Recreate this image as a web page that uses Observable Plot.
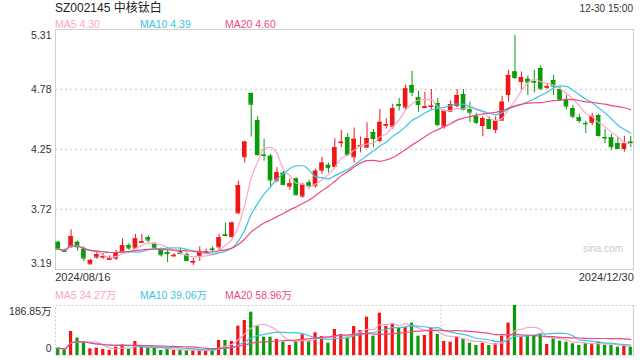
<!DOCTYPE html>
<html><head><meta charset="utf-8">
<script src="https://cdn.jsdelivr.net/npm/d3@7"></script>
<script src="https://cdn.jsdelivr.net/npm/@observablehq/plot@0.6"></script>
<style>
body{margin:0;background:#fff;}
#c{position:relative;width:640px;height:360px;overflow:hidden;font-family:"Liberation Sans",Arial,"Noto Sans CJK SC",sans-serif;}
#c svg{position:absolute;left:0;}
.t{position:absolute;white-space:nowrap;line-height:1;}
</style></head><body><div id="c"></div>
<script>
const title = "SZ002145 中核钛白";
const timeLabel = "12-30 15:00";
const dates = [
"2024/08/16","2024/08/19","2024/08/20","2024/08/21","2024/08/22","2024/08/23","2024/08/26","2024/08/27","2024/08/28","2024/08/29","2024/08/30",
"2024/09/02","2024/09/03","2024/09/04","2024/09/05","2024/09/06","2024/09/09","2024/09/10","2024/09/11","2024/09/12","2024/09/13","2024/09/18","2024/09/19","2024/09/20","2024/09/23","2024/09/24","2024/09/25","2024/09/26","2024/09/27","2024/09/30",
"2024/10/08","2024/10/09","2024/10/10","2024/10/11","2024/10/14","2024/10/15","2024/10/16","2024/10/17","2024/10/18","2024/10/21","2024/10/22","2024/10/23","2024/10/24","2024/10/25","2024/10/28","2024/10/29","2024/10/30","2024/10/31",
"2024/11/01","2024/11/04","2024/11/05","2024/11/06","2024/11/07","2024/11/08","2024/11/11","2024/11/12","2024/11/13","2024/11/14","2024/11/15","2024/11/18","2024/11/19","2024/11/20","2024/11/21","2024/11/22","2024/11/25","2024/11/26","2024/11/27","2024/11/28","2024/11/29",
"2024/12/02","2024/12/03","2024/12/04","2024/12/05","2024/12/06","2024/12/09","2024/12/10","2024/12/11","2024/12/12","2024/12/13","2024/12/16","2024/12/17","2024/12/18","2024/12/19","2024/12/20","2024/12/23","2024/12/24","2024/12/25","2024/12/26","2024/12/27","2024/12/30"];
const open = [3.43,3.36,3.39,3.43,3.37,3.24,3.30,3.30,3.28,3.29,
3.35,3.40,3.38,3.43,3.47,3.42,3.37,3.34,3.31,3.35,
3.32,3.255,3.31,3.34,3.37,3.39,3.495,3.48,3.69,4.185,
4.745,4.506,4.20,4.19,3.98,4.04,3.926,3.99,3.838,3.955,
3.93,4.067,4.11,4.10,4.31,4.354,4.185,4.28,4.27,4.40,
4.33,4.465,4.456,4.645,4.624,4.815,4.706,4.62,4.63,4.656,
4.456,4.588,4.638,4.736,4.60,4.54,4.462,4.515,4.427,4.509,
4.736,4.935,4.85,4.87,4.85,4.966,4.80,4.86,4.78,4.692,
4.612,4.53,4.48,4.49,4.55,4.355,4.353,4.303,4.259,4.315];
const close = [3.37,3.35,3.48,3.39,3.29,3.27,3.32,3.305,3.285,3.34,
3.40,3.38,3.46,3.435,3.45,3.38,3.32,3.33,3.315,3.33,
3.27,3.26,3.35,3.345,3.365,3.47,3.49,3.60,3.93,4.315,
4.65,4.206,4.197,3.98,4.044,3.94,3.947,3.85,3.935,3.93,
4.058,4.13,4.09,4.265,4.315,4.206,4.34,4.285,4.347,4.347,
4.49,4.47,4.61,4.638,4.786,4.756,4.647,4.627,4.633,4.47,
4.588,4.647,4.727,4.603,4.58,4.49,4.522,4.436,4.50,4.668,
4.904,4.885,4.885,4.845,4.845,4.786,4.805,4.81,4.686,4.633,
4.544,4.506,4.477,4.54,4.374,4.353,4.274,4.259,4.30,4.31];
const high = [3.44,3.37,3.54,3.44,3.39,3.28,3.35,3.33,3.31,3.36,
3.46,3.42,3.50,3.50,3.49,3.43,3.38,3.36,3.33,3.38,
3.34,3.285,3.39,3.37,3.39,3.50,3.60,3.61,3.97,4.323,
4.75,4.54,4.34,4.206,4.09,4.058,3.99,4.00,3.95,3.98,
4.075,4.18,4.13,4.345,4.418,4.39,4.44,4.36,4.486,4.427,
4.603,4.52,4.65,4.70,4.82,4.94,4.765,4.756,4.78,4.70,
4.60,4.68,4.78,4.78,4.668,4.57,4.54,4.54,4.54,4.72,
4.95,5.257,4.935,4.90,4.95,4.99,4.83,4.904,4.80,4.727,
4.64,4.56,4.50,4.57,4.56,4.427,4.383,4.353,4.367,4.367];
const low = [3.36,3.34,3.38,3.35,3.26,3.23,3.28,3.28,3.27,3.27,
3.34,3.36,3.37,3.42,3.43,3.36,3.30,3.25,3.30,3.32,
3.26,3.225,3.26,3.32,3.34,3.36,3.48,3.47,3.676,4.13,
4.36,4.19,4.147,3.91,3.955,3.93,3.89,3.84,3.82,3.90,
3.91,4.03,4.04,4.09,4.265,4.19,4.13,4.22,4.26,4.265,
4.31,4.43,4.43,4.59,4.60,4.72,4.58,4.615,4.603,4.455,
4.43,4.575,4.62,4.59,4.486,4.47,4.362,4.425,4.39,4.509,
4.668,4.868,4.78,4.727,4.75,4.775,4.78,4.727,4.676,4.60,
4.52,4.48,4.39,4.46,4.36,4.303,4.244,4.25,4.226,4.265];
const volume = [27.4,22.4,89.7,64.8,49.8,24.9,27.4,22.4,18.7,31.1,
39.9,22.4,52.3,31.1,27.4,27.4,18.7,24.9,18.7,18.7,
18.7,18.7,22.4,18.7,22.4,56.1,56.1,52.3,109.6,130.8,
161.9,109.6,68.5,68.5,59.8,49.8,37.4,52.3,77.2,53.6,
84.7,71.0,46.0,97.2,78.5,64.8,108.4,93.4,143.3,72.3,
158.2,108.4,115.9,102.1,105.9,120.8,72.3,74.7,102.1,78.5,
52.3,49.8,68.5,62.3,46.0,37.4,46.0,37.4,43.6,72.3,
120.8,186.85,68.5,74.7,74.7,81.0,41.1,62.3,53.6,49.8,
43.6,37.4,46.0,43.6,49.8,37.4,37.4,31.1,33.6,31.1];
const maPeriods = [5, 10, 20];
const maNames = ["MA5", "MA10", "MA20"];
const priceMaLast = ["4.30", "4.39", "4.60"];
const volMaLast = ["34.27万", "39.06万", "58.96万"];
const priceTicks = [3.19, 3.72, 4.25, 4.78, 5.31];
const volTicks = [0, 186.85];

const RED = "#f01616", GREEN = "#0a9a0a";
const maColors = ["#f8a6c6", "#3cc4e4", "#ee4a82"];
const FONT = '"Liberation Sans",Arial,"Noto Sans CJK SC",sans-serif';
const data = dates.map((d, i) => ({date: d, open: open[i], close: close[i], high: high[i], low: low[i], volume: volume[i]}));
const col = d => d.close >= d.open ? RED : GREEN;
const xScale = {type: "band", domain: dates, range: [54.5, 633.5], padding: 0, axis: null};
const c = document.getElementById("c");

function addText(txt, css) {
  const el = document.createElement("div");
  el.className = "t"; el.textContent = txt;
  Object.assign(el.style, css);
  c.appendChild(el);
}

const price = Plot.plot({
  width: 640, height: 290, marginTop: 29, marginBottom: 21, marginLeft: 55, marginRight: 7,
  style: {fontFamily: FONT, background: "transparent", overflow: "visible"},
  x: xScale,
  y: {domain: [priceTicks[0], priceTicks[4]], axis: null},
  color: {type: "identity"},
  marks: [
    Plot.ruleY(priceTicks.slice(1, 4), {stroke: "#d6d6d6", strokeWidth: 1.6, strokeDasharray: "2,3"}),
    Plot.frame({stroke: "#d0d0d0"}),
    Plot.ruleX(data, {x: "date", y1: "low", y2: "high", stroke: col, strokeWidth: 1}),
    Plot.barY(data, {x: "date", y1: "open", y2: "close", fill: col, insetLeft: 0.9, insetRight: 0.9}),
    Plot.tickY(data, {x: "date", y: "close", stroke: col, insetLeft: 0.9, insetRight: 0.9}),
    Plot.tickY(data, {x: "date", y: "open", stroke: col, insetLeft: 0.9, insetRight: 0.9}),
    ...maPeriods.map((k, j) => Plot.lineY(data, Plot.windowY({k, anchor: "end", reduce: "mean"}, {x: "date", y: "close", stroke: maColors[j], strokeWidth: 1.2, curve: "monotone-x"}))),
    Plot.axisY(priceTicks.slice(1, 4), {tickSize: 0, tickPadding: 4, fontSize: 10.5, color: "#333", label: null, tickFormat: d => d.toFixed(2)}),
    Plot.axisY([priceTicks[4]], {tickSize: 0, tickPadding: 4, fontSize: 10.5, color: "#333", label: null, dy: 6, tickFormat: d => d.toFixed(2)}),
    Plot.axisY([priceTicks[0]], {tickSize: 0, tickPadding: 4, fontSize: 10.5, color: "#333", label: null, dy: -6, tickFormat: d => d.toFixed(2)}),
    Plot.axisX([dates[0]], {tickSize: 0, tickPadding: 4, fontSize: 11, color: "#333", label: null, textAnchor: "start", dx: -3})
    ,Plot.axisX([dates[dates.length - 1]], {tickSize: 0, tickPadding: 4, fontSize: 11, color: "#333", label: null, textAnchor: "end", dx: 3})
  ]
});
price.style.top = "0px";
c.appendChild(price);

const vol = Plot.plot({
  width: 640, height: 70, marginTop: 15, marginBottom: 5, marginLeft: 55, marginRight: 7,
  style: {fontFamily: FONT, background: "transparent", overflow: "visible"},
  x: xScale,
  y: {domain: [volTicks[0], volTicks[1]], axis: null},
  color: {type: "identity"},
  marks: [
    Plot.frame({stroke: "#cfcfcf", strokeDasharray: "2,2", strokeWidth: 1.2}),
    Plot.frame({anchor: "right", stroke: "#cfcfcf"}),
    Plot.ruleX([dates[30], dates[60]], {dx: -3.2, stroke: "#cfcfcf", strokeDasharray: "2,2"}),
    Plot.barY(data, {x: "date", y: "volume", fill: col, insetLeft: 1.6, insetRight: 1.6}),
    ...maPeriods.map((k, j) => Plot.lineY(data, Plot.windowY({k, anchor: "end", reduce: "mean"}, {x: "date", y: "volume", stroke: maColors[j], strokeWidth: 1.2, curve: "monotone-x"}))),
    Plot.axisY([volTicks[1]], {tickSize: 0, tickPadding: 4, fontSize: 10.5, color: "#333", label: null, dy: 6.5, tickFormat: d => d + "万"}),
    Plot.axisY([volTicks[0]], {tickSize: 0, tickPadding: 4, fontSize: 10.5, color: "#333", label: null, dy: -7, tickFormat: d => String(d)})
  ]
});
vol.style.top = "290px";
c.appendChild(vol);

addText(title, {left: "55px", top: "2px", fontSize: "12px", color: "#222"});
addText(timeLabel, {right: "7px", top: "4px", fontSize: "10px", color: "#333"});
const legendX = [55, 140, 225];
maNames.forEach((n, j) => {
  addText(n + " " + priceMaLast[j], {left: legendX[j] + "px", top: "18.5px", fontSize: "10.5px", color: maColors[j]});
  addText(n + " " + volMaLast[j], {left: legendX[j] + "px", top: "290px", fontSize: "10.5px", color: maColors[j]});
});
addText("sina.com", {right: "17px", top: "244px", fontSize: "10px", color: "#c8c8c8"});
</script></body></html>
